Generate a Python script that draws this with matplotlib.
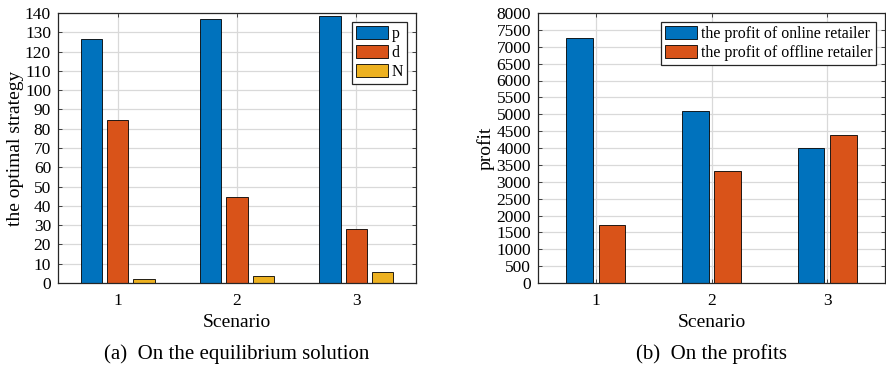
import numpy as np
import matplotlib.pyplot as plt

plt.rcParams['font.family'] = ['Liberation Serif', 'DejaVu Serif']

# data
scenarios = [1, 2, 3]
p_vals = [126.5, 136.7, 138.5]
d_vals = [84.5, 44.7, 28.0]
n_vals = [2.3, 3.8, 5.9]
profit_online = [7270, 5100, 4000]
profit_offline = [1720, 3330, 4380]

blue = (0.0, 0.447, 0.741)
orange = (0.850, 0.325, 0.098)
yellow = (0.929, 0.694, 0.125)

W, H = 886, 372
fig = plt.figure(figsize=(W / 100, H / 100), dpi=100)


def style_axes(ax):
    # matlab-ish look: boxed, inward ticks, light grid
    for s in ax.spines.values():
        s.set_color('0.15')
        s.set_linewidth(0.9)
    ax.tick_params(direction='in', length=3, width=0.6, top=True, right=True,
                   labelsize=12.5, colors='0.15', pad=5)
    ax.tick_params(axis='x', pad=7)
    for lab in ax.get_xticklabels() + ax.get_yticklabels():
        lab.set_color('black')
    ax.grid(True, color='0.85', linewidth=0.9)
    ax.set_axisbelow(True)


def add_legend(ax):
    leg = ax.legend(loc='upper right', fontsize=11.4, handlelength=2.0, handleheight=0.9,
                    fancybox=False, framealpha=1, edgecolor='0.15', borderpad=0.25,
                    labelspacing=0.2, handletextpad=0.25, borderaxespad=0.55)
    leg.get_frame().set_linewidth(0.9)
    return leg


x = np.array(scenarios, dtype=float)

# (a) equilibrium solution
ax1 = fig.add_axes([58 / W, 89 / H, 358 / W, 270 / H])
w1 = 0.18
ax1.bar(x - 0.22, p_vals, w1, color=blue, edgecolor='black', linewidth=0.6, label='p')
ax1.bar(x, d_vals, w1, color=orange, edgecolor='black', linewidth=0.6, label='d')
ax1.bar(x + 0.22, n_vals, w1, color=yellow, edgecolor='black', linewidth=0.6, label='N')
ax1.set_xlim(0.5, 3.5)
ax1.set_ylim(0, 140)
ax1.set_xticks(scenarios)
ax1.set_yticks(np.arange(0, 141, 10))
ax1.set_xlabel('Scenario', fontsize=14, labelpad=4)
ax1.set_ylabel('the optimal strategy', fontsize=14, labelpad=1)
style_axes(ax1)
add_legend(ax1)

# (b) profits
ax2 = fig.add_axes([538 / W, 89 / H, 347 / W, 270 / H])
w2 = 0.23
ax2.bar(x - 0.14, profit_online, w2, color=blue, edgecolor='black', linewidth=0.6,
        label='the profit of online retailer')
ax2.bar(x + 0.14, profit_offline, w2, color=orange, edgecolor='black', linewidth=0.6,
        label='the profit of offline retailer')
ax2.set_xlim(0.5, 3.5)
ax2.set_ylim(0, 8000)
ax2.set_xticks(scenarios)
ax2.set_yticks(np.arange(0, 8001, 500))
ax2.set_xlabel('Scenario', fontsize=14, labelpad=4)
ax2.set_ylabel('profit', fontsize=14, labelpad=1)
style_axes(ax2)
add_legend(ax2)

fig.text(237 / W, 1 - 354 / H, '(a)  On the equilibrium solution', ha='center', va='center', fontsize=15)
fig.text(711 / W, 1 - 354 / H, '(b)  On the profits', ha='center', va='center', fontsize=15)

fig.savefig('out.png', dpi=100)
